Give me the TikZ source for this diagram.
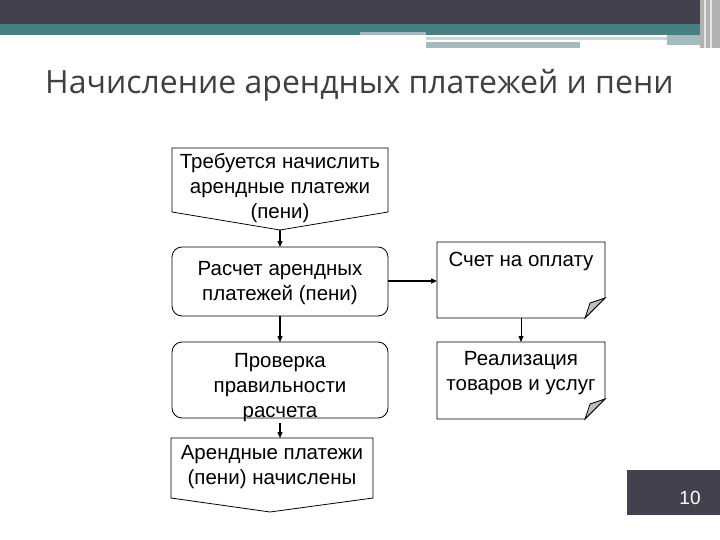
\documentclass[tikz,border=0pt]{standalone}
\usepackage{fontspec}
\setmainfont{Liberation Sans}
\newfontfamily\titlefont{Open Sans}
\usetikzlibrary{arrows.meta}
\definecolor{dark}{HTML}{42424F}
\definecolor{teal}{HTML}{468084}
\definecolor{lteal}{HTML}{A3BBBE}
\begin{document}
\begin{tikzpicture}[x=1pt,y=-1pt,
  box/.style={draw=black,line width=0.8pt,fill=white},
  txt/.style={align=center,font=\fontsize{20.5}{25}\selectfont,inner sep=0pt},
  arr/.style={-{Triangle[length=6pt,width=5pt]},line width=1.2pt}]
\useasboundingbox (0,0) rectangle (720,540);
\fill[white] (0,0) rectangle (720,540);
% header
\fill[dark] (0,0) rectangle (720,24);
\fill[teal] (0,24) rectangle (720,35);
\fill[lteal] (360,32) rectangle (426,35);
\fill[lteal] (426,42) rectangle (580,48);
\fill[lteal!60] (426,37) rectangle (667,40);
\fill[lteal] (667,35) rectangle (700,45);
\fill[gray!60] (700,0) rectangle (720,48);
\fill[white!80!gray] (704,0) rectangle (706,48);
\fill[white!80!gray] (710,0) rectangle (712,48);
\node[anchor=west,font=\titlefont\fontsize{32}{36}\selectfont,text=black!75,inner sep=0pt] (title) at (45,85) {Начисление арендных платежей и пени};
% left column
\draw[box] (172,148) -- (388,148) -- (388,212) -- (280,230) -- (172,212) -- cycle;
\node[txt] (b1) at (280,188) {Требуется начислить\\арендные платежи\\(пени)};
\coordinate (b1s) at (280,230);
\draw[box,rounded corners=10pt] (172,247) rectangle (388,316);
\node[txt] (b2) at (280,283) {Расчет арендных\\платежей (пени)};
\coordinate (b2n) at (280,247);
\coordinate (b2s) at (280,316);
\coordinate (b2e) at (388,281);
\draw[box,rounded corners=10pt] (172,342) rectangle (388,418);
\node[txt] (b3) at (280,388) {Проверка\\правильности\\расчета};
\coordinate (b3n) at (280,342);
\coordinate (b3s) at (280,423);
\draw[box] (171,438) -- (373,438) -- (373,498) -- (270,512) -- (171,498) -- cycle;
\node[txt] (b4) at (272,467) {Арендные платежи\\(пени) начислены};
\coordinate (b4n) at (280,438);
% right column
\draw[box] (437,242) -- (605,242) -- (605,298) -- (585,318) -- (437,318) -- cycle;
\filldraw[fill=gray!50,draw=black,line width=0.8pt] (605,298) -- (585,318) -- (590,303) -- cycle;
\node[txt] (b5) at (521,261) {Счет на оплату};
\coordinate (b5w) at (437,281);
\coordinate (b5s) at (521,318);
\draw[box] (437,342) -- (605,342) -- (605,399) -- (585,419) -- (437,419) -- cycle;
\filldraw[fill=gray!50,draw=black,line width=0.8pt] (605,399) -- (585,419) -- (590,404) -- cycle;
\node[txt] (b6) at (521,373) {Реализация\\товаров и услуг};
\coordinate (b6n) at (521,342);
% arrows
\draw[arr] (b1s) -- (b2n);
\draw[arr] (b2s) -- (b3n);
\draw[arr] (b3s) -- (b4n);
\draw[arr] (b2e) -- (b5w);
\draw[arr,line width=0.8pt] (b5s) -- (b6n);
% page number
\fill[dark] (627,470) rectangle (720,515);
\node[text=white,font=\fontsize{19}{22}\selectfont] (pg) at (690,498) {10};
\end{tikzpicture}
\end{document}
